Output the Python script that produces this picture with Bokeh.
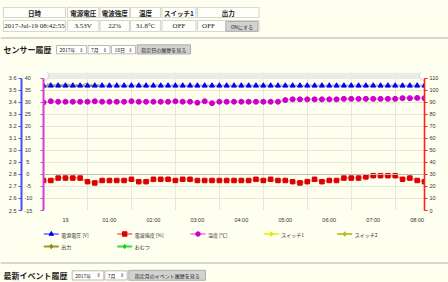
import pandas as pd
from bokeh.plotting import figure
from bokeh.layouts import column, row
from bokeh.models import (Range1d, LinearAxis, FixedTicker, DatetimeTickFormatter,
                          PrintfTickFormatter, Span, ColumnDataSource)
from bokeh.core.properties import value
from bokeh.embed import file_html
from bokeh.resources import INLINE

BG = "#fffff0"
JP = "Noto Sans CJK JP"
SERIF = "Liberation Serif"

# ---------------- data ----------------
header_labels = ["日時", "電源電圧", "電波強度", "温度", "スイッチ1", "出力"]
current_values = ["2017-Jul-19 08:42:55", "3.53V", "22%", "31.8°C", "OFF", "OFF"]
button_label = "ONにする"

sensor_title = "センサー履歴"
sensor_selects = ["2017年", "7月", "18日"]
sensor_button = "指定日の履歴を見る"
event_title = "最新イベント履歴"
event_selects = ["2017年", "7月"]
event_button = "指定月のイベント履歴を見る"

times = ["23:30", "23:40", "23:50",
         "00:00", "00:10", "00:20", "00:30", "00:40", "00:50",
         "01:00", "01:10", "01:20", "01:30", "01:40", "01:50",
         "02:00", "02:10", "02:20", "02:30", "02:40", "02:50",
         "03:00", "03:10", "03:20", "03:30", "03:40", "03:50",
         "04:00", "04:10", "04:20", "04:30", "04:40", "04:50",
         "05:00", "05:10", "05:20", "05:30", "05:40", "05:50",
         "06:00", "06:10", "06:20", "06:30", "06:40", "06:50",
         "07:00", "07:10", "07:20", "07:30", "07:40", "07:50",
         "08:00", "08:10"]

volt = [3.54, 3.54, 3.54, 3.54, 3.54, 3.54, 3.54, 3.54, 3.54, 3.54,
        3.54, 3.54, 3.54, 3.54, 3.54, 3.54, 3.54, 3.54, 3.54, 3.54,
        3.54, 3.54, 3.54, 3.54, 3.54, 3.54, 3.54, 3.54, 3.54, 3.54,
        3.54, 3.54, 3.54, 3.54, 3.54, 3.54, 3.54, 3.54, 3.54, 3.54,
        3.54, 3.54, 3.54, 3.54, 3.54, 3.54, 3.54, 3.54, 3.54, 3.54,
        3.54, 3.54, 3.54]

signal = [25, 25, 27, 27, 27, 27, 24, 23, 25, 25,
          25, 25, 26, 24, 24, 26, 26, 26, 25, 26,
          26, 25, 25, 25, 25, 25, 25, 25, 25, 26,
          25, 26, 25, 25, 24, 23, 24, 26, 24, 25,
          25, 27, 27, 27, 28, 29, 29, 29, 29, 26,
          27, 25, 24]

temp = [30.0, 30.5, 30.3, 30.3, 30.3, 30.3, 30.3, 30.5, 30.3, 30.3,
        30.3, 30.3, 30.5, 30.3, 30.3, 30.3, 30.3, 30.3, 30.5, 30.3,
        30.3, 29.9, 30.5, 29.7, 30.3, 30.3, 30.3, 30.3, 30.3, 30.3,
        30.3, 30.3, 30.3, 31.0, 31.3, 31.3, 31.3, 31.3, 31.3, 31.3,
        31.3, 31.5, 31.5, 31.5, 31.5, 31.5, 31.5, 31.5, 31.5, 31.8,
        31.8, 31.9, 31.8]

hour_times = ["00:00", "01:00", "02:00", "03:00", "04:00", "05:00", "06:00", "07:00", "08:00"]
day_label = "19"
grid_times = ["23:30", "00:30", "01:30", "02:30", "03:30", "04:30", "05:30", "06:30", "07:30"]

volt_ticks = [2.5, 2.6, 2.7, 2.8, 2.9, 3.0, 3.1, 3.2, 3.3, 3.4, 3.5, 3.6]
temp_ticks = [-15, -10, -5, 0, 5, 10, 15, 20, 25, 30, 35, 40]
signal_ticks = [0, 10, 20, 30, 40, 50, 60, 70, 80, 90, 100, 110]

legend_labels = ["電源電圧 [V]", "電波強度 [%]", "温度 [℃]", "スイッチ1", "スイッチ2", "出力", "おむつ"]
legend_line_colors = ["#8c8cff", "#ff8c8c", "#ff8cff", "#eeee44", "#c4c43a", "#9a9a22", "#33dd33"]
legend_marker_colors = ["#0000ff", "#dd0000", "#cc00cc", "#e6e600", "#b8b820", "#8a8a10", "#22cc22"]
legend_markers = ["triangle", "square", "circle", "diamond", "diamond", "diamond", "diamond"]


def stamp(hm):
    day = "2017-07-18" if hm.startswith("23") else "2017-07-19"
    return pd.Timestamp(f"{day} {hm}")


def ms(ts):
    return ts.value / 1e6


def page_fig(h, y0, y1):
    f = figure(width=448, height=h, x_range=Range1d(0, 448), y_range=Range1d(y1, y0),
               output_backend="svg", toolbar_location=None, min_border=0,
               x_axis_location=None, y_axis_location=None)
    f.grid.visible = False
    f.outline_line_color = None
    f.background_fill_color = BG
    f.border_fill_color = BG
    return f


def txt(f, x, y, s, size, align="left", bold=False, font=JP, color="#222222"):
    f.text(x=[x], y=[y], text=[s], text_font=value(font), text_font_size=size,
           text_align=align, text_baseline="middle", text_color=color,
           text_font_style="bold" if bold else "normal")


def select_box(f, l, r, t, b, s):
    f.quad(left=[l], right=[r], top=[t], bottom=[b], fill_color="#ffffff",
           line_color="#a8a8a8", line_width=0.8)
    txt(f, l + 3, (t + b) / 2, s, "5px")
    txt(f, r - 3, (t + b) / 2, "⇕", "5px", align="right", font="DejaVu Sans", color="#444444")


def button_box(f, l, r, t, b, s):
    f.quad(left=[l], right=[r], top=[t], bottom=[b], fill_color="#d2d2d2",
           line_color="#a0a0a0", line_width=0.8)
    txt(f, (l + r) / 2, (t + b) / 2, s, "5px", align="center")


# ---------------- top part: table + title ----------------
top = page_fig(72, 0, 72)
col_l = [3, 67, 99.5, 130, 161.5, 197]
col_r = [65, 98.5, 129, 160, 195.5, 258.5]
top.quad(left=col_l, right=col_r, top=[7] * 6, bottom=[17] * 6,
         fill_color="#fefefa", line_color="#d8d8d0", line_width=1.2)
top.quad(left=col_l, right=col_r, top=[20] * 6, bottom=[31] * 6,
         fill_color="#fefefa", line_color="#d8d8d0", line_width=1.2)
for i, h in enumerate(header_labels):
    txt(top, (col_l[i] + col_r[i]) / 2, 12, h, "6.5px", align="center", bold=True)
for i, v in enumerate(current_values[:5]):
    txt(top, (col_l[i] + col_r[i]) / 2, 25.5, v, "7px", align="center", font=SERIF)
txt(top, 208, 25.5, current_values[5], "7px", align="center", font=SERIF)
button_box(top, 225.3, 257.3, 21, 30.7, button_label)

top.line(x=[0, 448], y=[37.5, 37.5], line_color="#c8c8c8", line_width=1.6)

txt(top, 3, 49, sensor_title, "8px", bold=True)
for (l, r), s in zip([(56, 86), (87.5, 109.5), (111, 135)], sensor_selects):
    select_box(top, l, r, 45, 53.3, s)
button_box(top, 136.5, 190, 44.3, 53.5, sensor_button)

# ---------------- chart ----------------
ratio = 139 / 133
tv = [stamp(s) for s in times]
src = ColumnDataSource(dict(t=tv, volt=volt, temp=temp, signal=signal))

chart = figure(width=448, height=153, x_axis_type="datetime",
               x_range=Range1d(tv[0], tv[-1]),
               y_range=Range1d(-15, -15 + 55 * ratio),
               output_backend="svg", toolbar_location=None,
               min_border_left=43, min_border_right=24, min_border_top=0, min_border_bottom=14)
chart.extra_y_ranges = {"volt": Range1d(2.5, 2.5 + 1.1 * ratio),
                        "sig": Range1d(0, 110 * ratio)}
chart.background_fill_color = BG
chart.border_fill_color = BG
chart.outline_line_color = None

# inner left axis: temperature (labels padded on the left so the outer axis sits further out)
ta = chart.yaxis[0]
ta.ticker = FixedTicker(ticks=temp_ticks)
ta.formatter = PrintfTickFormatter(format="%7d")
ta.bounds = (-15, 40)
ta.axis_line_color = "#d040d0"
ta.axis_line_width = 2
ta.major_tick_line_color = "#d040d0"
ta.major_tick_out = 3
ta.major_tick_in = 0
ta.minor_tick_line_color = None
ta.major_label_text_font_size = "5.5px"
ta.major_label_text_color = "#333333"
ta.major_label_standoff = 2

# outer left axis: voltage
va = LinearAxis(y_range_name="volt", ticker=FixedTicker(ticks=volt_ticks),
                formatter=PrintfTickFormatter(format="%.1f"), bounds=(2.5, 3.6))
va.axis_line_color = "#4a4aff"
va.axis_line_width = 2
va.major_tick_line_color = "#4a4aff"
va.major_tick_out = 3
va.major_tick_in = 0
va.minor_tick_line_color = None
va.major_label_text_font_size = "5.5px"
va.major_label_text_color = "#333333"
va.major_label_standoff = 2
chart.add_layout(va, "left")

# right axis: signal strength
sa = LinearAxis(y_range_name="sig", ticker=FixedTicker(ticks=signal_ticks), bounds=(0, 110))
sa.axis_line_color = "#ff2020"
sa.axis_line_width = 1.6
sa.major_tick_line_color = "#ff2020"
sa.major_tick_out = 3
sa.major_tick_in = 0
sa.minor_tick_line_color = None
sa.major_label_text_font_size = "5.5px"
sa.major_label_text_color = "#333333"
sa.major_label_standoff = 2
chart.add_layout(sa, "right")

xa = chart.xaxis[0]
hour_ms = [ms(stamp(h)) for h in hour_times]
xa.ticker = FixedTicker(ticks=hour_ms)
xa.formatter = DatetimeTickFormatter(hours="%H:%M", minutes="%H:%M", hourmin="%H:%M")
xa.major_label_overrides = {hour_ms[0]: day_label}
xa.axis_line_color = None
xa.major_tick_line_color = None
xa.minor_tick_line_color = None
xa.major_label_text_font_size = "5.5px"
xa.major_label_text_color = "#333333"
xa.major_label_standoff = 0

chart.ygrid.grid_line_color = "#e6e6da"
chart.xgrid.ticker = FixedTicker(ticks=[ms(stamp(g)) for g in grid_times])
chart.xgrid.grid_line_color = "#e6e6da"
chart.add_layout(Span(location=0, dimension="width", line_color="#bdbdb5", line_width=1))

# scrollbar band at top of chart
chart.quad(left=[tv[0]], right=[tv[-1]], bottom=[40], top=[-15 + 55 * ratio],
           fill_color="#ebebeb", line_color=None)
chart.scatter(x=[tv[0], tv[-1]], y=[41.2, 41.2], marker="circle", size=10,
              fill_color="#ffffff", line_color="#cccccc", line_width=0.8)

# series
chart.line("t", "signal", source=src, y_range_name="sig", line_color="#ff0000",
           line_alpha=0.3, line_width=2.2)
chart.scatter("t", "signal", source=src, y_range_name="sig", marker="square", size=4.5,
              fill_color="#dd0000", line_color="#dd0000")
chart.line("t", "temp", source=src, line_color="#ff00ff", line_alpha=0.3, line_width=2.2)
chart.scatter("t", "temp", source=src, marker="circle", size=5,
              fill_color="#cc00cc", line_color="#cc00cc")
chart.line("t", "volt", source=src, y_range_name="volt", line_color="#0000ff",
           line_alpha=0.3, line_width=2.2)
chart.scatter("t", "volt", source=src, y_range_name="volt", marker="triangle", size=5,
              fill_color="#0000ee", line_color="#0000ee")

chart.text(x=[tv[0]], y=[37.4], text=["JS chart by amCharts"], x_offset=3,
           text_font=value("DejaVu Sans"), text_font_size="5px", text_color="#333333",
           text_alpha=0.85, text_baseline="middle")

# ---------------- bottom part: legend + event title ----------------
bot = page_fig(57, 225, 282)
leg_x = [43.3, 116.7, 190, 263.3, 336.7, 43.3, 116.7]
leg_y = [233.5, 233.5, 233.5, 233.5, 233.5, 246, 246]
for i, lab in enumerate(legend_labels):
    x0, y0 = leg_x[i], leg_y[i]
    bot.line(x=[x0, x0 + 15], y=[y0, y0], line_color=legend_line_colors[i], line_width=1.8)
    bot.scatter(x=[x0 + 7.5], y=[y0], marker=legend_markers[i], size=4.5,
                fill_color=legend_marker_colors[i], line_color=legend_marker_colors[i])
    txt(bot, x0 + 17.5, y0, lab, "5px", color="#333333")

bot.line(x=[0, 448], y=[262.5, 262.5], line_color="#c8c8c8", line_width=1.6)
txt(bot, 3, 275, event_title, "8px", bold=True)
for (l, r), s in zip([(71.7, 103.3), (104.3, 126.7)], event_selects):
    select_box(bot, l, r, 270.3, 279.5, s)
button_box(bot, 128.3, 205, 269.8, 279.8, event_button)

layout = column(row(top), chart, row(bot), spacing=0)
open("out.html", "w").write(file_html(layout, INLINE))
